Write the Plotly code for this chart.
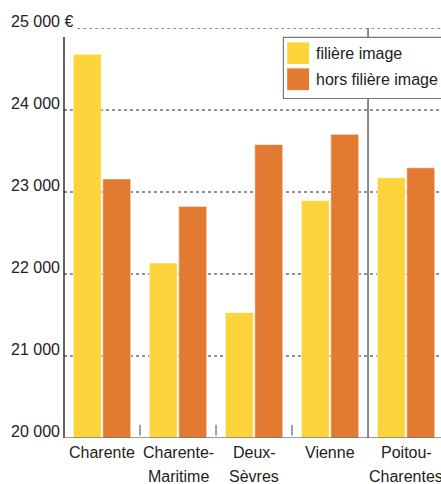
import plotly.graph_objects as go

categories = ["Charente", "Charente-Maritime", "Deux-Sèvres", "Vienne", "Poitou-Charentes"]
series_names = ["filière image", "hors filière image"]
filiere = [24680, 22135, 21530, 22895, 23175]
hors_filiere = [23160, 22825, 23580, 23705, 23295]
y_ticks = [20000, 21000, 22000, 23000, 24000, 25000]
y_tick_labels = ["20 000", "21 000", "22 000", "23 000", "24 000", "25 000 €"]

YELLOW = "#FDD43C"
ORANGE = "#E27A31"
FONT = "Liberation Sans, Arial, sans-serif"
TXT = "#222222"

fig = go.Figure()
for name, vals, col in [(series_names[0], filiere, YELLOW), (series_names[1], hors_filiere, ORANGE)]:
    fig.add_trace(go.Bar(
        x=list(range(len(categories))), y=vals, name=name,
        marker=dict(color=col, line=dict(color="rgba(255,255,255,0.6)", width=1)),
        showlegend=False, hoverinfo="skip",
    ))

shapes = []
annotations = []

# gridlines (dashed)
for v in y_ticks[1:]:
    x0 = 0.035 if v == 25000 else 0.0
    shapes.append(dict(type="line", xref="paper", yref="y", x0=x0, x1=1, y0=v, y1=v,
                       line=dict(color="#222222", width=1, dash="3px,3px"), layer="below"))

# separator line between departments and region
shapes.append(dict(type="line", xref="x", yref="y", x0=3.5, x1=3.5, y0=20000, y1=25000,
                   line=dict(color="#666666", width=1.5), layer="below"))
# small category ticks
for b in [0.5, 1.5, 2.5]:
    shapes.append(dict(type="line", xref="x", yref="y", x0=b, x1=b, y0=20030, y1=20160,
                       line=dict(color="#444444", width=1)))
# y axis line
shapes.append(dict(type="line", xref="paper", yref="y", x0=0, x1=0, y0=20000, y1=24890,
                   line=dict(color="#111111", width=1.3)))
# x axis line
shapes.append(dict(type="line", xref="paper", yref="y", x0=0, x1=1, y0=20000, y1=20000,
                   line=dict(color="#777777", width=1.5)))

# y tick labels
for v, t in zip(y_ticks, y_tick_labels):
    annotations.append(dict(xref="paper", yref="y", x=-0.146, y=v, text=t, showarrow=False,
                            xanchor="left", yanchor="middle", yshift=7,
                            font=dict(family=FONT, size=16, color=TXT)))

# category labels
for i, c in enumerate(categories):
    if "-" in c:
        a, b = c.split("-", 1)
        lines = [a + "-", b]
    else:
        lines = [c]
    for j, ln in enumerate(lines):
        annotations.append(dict(xref="x", yref="paper", x=i, y=0, text=ln, showarrow=False,
                                xanchor="center", yanchor="middle", yshift=-14 - 24 * j,
                                font=dict(family=FONT, size=16, color=TXT)))

# custom legend
shapes.append(dict(type="rect", xref="paper", yref="paper", x0=0.582, x1=1.05, y0=0.828, y1=0.977,
                   fillcolor="white", line=dict(color="#777777", width=1.2), layer="above"))
for k, (name, col) in enumerate([(series_names[0], YELLOW), (series_names[1], ORANGE)]):
    ytop = 0.965 - k * 0.0635
    shapes.append(dict(type="rect", xref="paper", yref="paper", x0=0.592, x1=0.650,
                       y0=ytop - 0.053, y1=ytop, fillcolor=col, line=dict(width=0), layer="above"))
    annotations.append(dict(xref="paper", yref="paper", x=0.662, y=ytop - 0.0265, text=name,
                            showarrow=False, xanchor="left", yanchor="middle",
                            font=dict(family=FONT, size=16, color=TXT)))

fig.update_layout(
    width=441, height=484,
    margin=dict(l=64, r=0, t=28, b=46, autoexpand=False),
    paper_bgcolor="white", plot_bgcolor="white",
    barmode="group", bargap=0.224, bargroupgap=0.05,
    xaxis=dict(range=[-0.5, 4.46], showticklabels=False, showgrid=False, zeroline=False,
               showline=False, ticks=""),
    yaxis=dict(range=[20000, 25000], showticklabels=False, showgrid=False, zeroline=False,
               showline=False, ticks=""),
    shapes=shapes, annotations=annotations,
)

fig.write_html("out.html", config={"displayModeBar": False},
               post_script="document.body.style.margin='0px';document.body.style.overflow='hidden';")
